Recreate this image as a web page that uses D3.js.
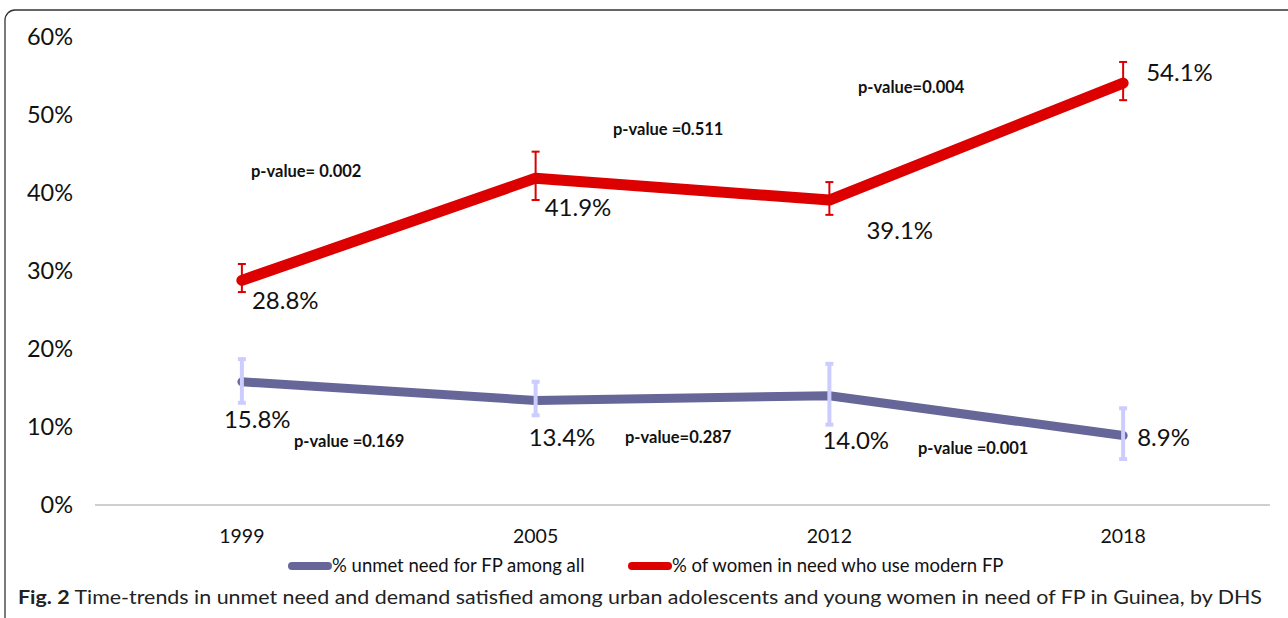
<!DOCTYPE html>
<html lang="en">
<head>
  <script src="https://d3js.org/d3.v7.min.js"></script>
  <style>
    body { margin: 0; background: #fff; }
    text { font-family: Lato, "Open Sans", sans-serif; }
  </style>
</head>
<body>
<script>
  // Data
  const years = ["1999", "2005", "2012", "2018"];
  const unmetNeed = [15.8, 13.4, 14.0, 8.9];
  const unmetLow = [13.1, 11.5, 10.3, 5.9];
  const unmetHigh = [18.7, 15.8, 18.1, 12.4];
  const modernUse = [28.8, 41.9, 39.1, 54.1];
  const modernLow = [27.3, 39.1, 37.2, 51.9];
  const modernHigh = [30.9, 45.3, 41.4, 56.8];
  const yTicks = [0, 10, 20, 30, 40, 50, 60];
  const unmetPvals = ["p-value =0.169", "p-value=0.287", "p-value =0.001"];
  const modernPvals = ["p-value= 0.002", "p-value =0.511", "p-value=0.004"];
  const seriesNames = ["% unmet need for FP among all", "% of women in need who use modern FP"];

  const W = 1288, H = 618;
  const svg = d3.select("body").append("svg")
    .attr("width", W).attr("height", H);

  // frame
  svg.append("rect")
    .attr("x", 5).attr("y", 10).attr("width", W + 20).attr("height", H + 20)
    .attr("rx", 10).attr("fill", "none").attr("stroke", "#333").attr("stroke-width", 1.3);

  var x = d3.scaleBand().domain(years).range([95, 1270]);
  var y = d3.scaleLinear().domain([0, 60]).range([505, 37]);
  const cx = d => x(d) + x.bandwidth() / 2;

  // y tick labels
  svg.selectAll(".ytick").data(yTicks).enter().append("text")
    .attr("x", 73).attr("y", d => y(d) + 8)
    .attr("text-anchor", "end").attr("font-size", 23.5).attr("fill", "#111")
    .text(d => d + "%");

  // baseline
  svg.append("line").attr("x1", 95).attr("x2", 1270)
    .attr("y1", y(0)).attr("y2", y(0)).attr("stroke", "#bfbfbf").attr("stroke-width", 1.3);

  // x labels
  svg.selectAll(".xtick").data(years).enter().append("text")
    .attr("x", d => cx(d)).attr("y", 543)
    .attr("text-anchor", "middle").attr("font-size", 19.5).attr("fill", "#111")
    .text(d => d);

  const line = d3.line().x((d, i) => cx(years[i])).y(d => y(d));

  // unmet need series
  svg.append("path").datum(unmetNeed).attr("d", line)
    .attr("fill", "none").attr("stroke", "#666699").attr("stroke-width", 9)
    .attr("stroke-linecap", "round").attr("stroke-linejoin", "round");
  years.forEach(function(yr, i) {
    let g = svg.append("g").attr("stroke", "#ccccff").attr("stroke-width", 4);
    g.append("line").attr("x1", cx(yr)).attr("x2", cx(yr)).attr("y1", y(unmetLow[i])).attr("y2", y(unmetHigh[i]));
    g.append("line").attr("x1", cx(yr) - 4).attr("x2", cx(yr) + 4).attr("y1", y(unmetLow[i])).attr("y2", y(unmetLow[i]));
    g.append("line").attr("x1", cx(yr) - 4).attr("x2", cx(yr) + 4).attr("y1", y(unmetHigh[i])).attr("y2", y(unmetHigh[i]));
  });

  // modern FP series
  svg.append("path").datum(modernUse).attr("d", line)
    .attr("fill", "none").attr("stroke", "#dd0000").attr("stroke-width", 11)
    .attr("stroke-linecap", "round").attr("stroke-linejoin", "round");
  years.forEach(function(yr, i) {
    let g = svg.append("g").attr("stroke", "#dd0000").attr("stroke-width", 2);
    g.append("line").attr("x1", cx(yr)).attr("x2", cx(yr)).attr("y1", y(modernLow[i])).attr("y2", y(modernHigh[i]));
    g.append("line").attr("x1", cx(yr) - 4).attr("x2", cx(yr) + 4).attr("y1", y(modernLow[i])).attr("y2", y(modernLow[i]));
    g.append("line").attr("x1", cx(yr) - 4).attr("x2", cx(yr) + 4).attr("y1", y(modernHigh[i])).attr("y2", y(modernHigh[i]));
  });

  // value labels (offsets from the point)
  const modernOff = [[10, 29], [9, 38], [37, 39], [23, -2]];
  const unmetOff = [[-18, 46], [-7, 46], [-7, 53], [14, 10]];
  modernUse.forEach(function(v, i) {
    svg.append("text").attr("x", cx(years[i]) + modernOff[i][0]).attr("y", y(v) + modernOff[i][1])
      .attr("font-size", 24).attr("fill", "#111").text(v.toFixed(1) + "%");
  });
  unmetNeed.forEach(function(v, i) {
    svg.append("text").attr("x", cx(years[i]) + unmetOff[i][0]).attr("y", y(v) + unmetOff[i][1])
      .attr("font-size", 24).attr("fill", "#111").text(v.toFixed(1) + "%");
  });

  // p-values, placed between consecutive years
  const modernPpos = [[251, 177], [613, 135], [858, 93]];
  const unmetPpos = [[294, 447], [625, 443], [918, 454]];
  modernPvals.forEach(function(t, i) {
    svg.append("text").attr("x", modernPpos[i][0]).attr("y", modernPpos[i][1])
      .attr("font-size", 16.5).attr("font-weight", "bold").attr("fill", "#111").text(t);
  });
  unmetPvals.forEach(function(t, i) {
    svg.append("text").attr("x", unmetPpos[i][0]).attr("y", unmetPpos[i][1])
      .attr("font-size", 16.5).attr("font-weight", "bold").attr("fill", "#111").text(t);
  });

  // legend
  const legendX = [292, 632];
  const legendColors = ["#666699", "#dd0000"];
  seriesNames.forEach(function(n, i) {
    svg.append("line").attr("x1", legendX[i]).attr("x2", legendX[i] + 36)
      .attr("y1", 566).attr("y2", 566).attr("stroke", legendColors[i])
      .attr("stroke-width", 8).attr("stroke-linecap", "round");
    svg.append("text").attr("x", legendX[i] + 40).attr("y", 572)
      .attr("font-size", 18.5).attr("fill", "#111").text(n);
  });

  // caption
  const cap = svg.append("text").attr("x", 18).attr("y", 604)
    .attr("font-size", 19.5).attr("fill", "#222")
    .attr("textLength", 1244).attr("lengthAdjust", "spacingAndGlyphs");
  cap.append("tspan").attr("font-weight", "bold").text("Fig. 2");
  cap.append("tspan").text(" Time-trends in unmet need and demand satisfied among urban adolescents and young women in need of FP in Guinea, by DHS");
</script>
</body>
</html>
